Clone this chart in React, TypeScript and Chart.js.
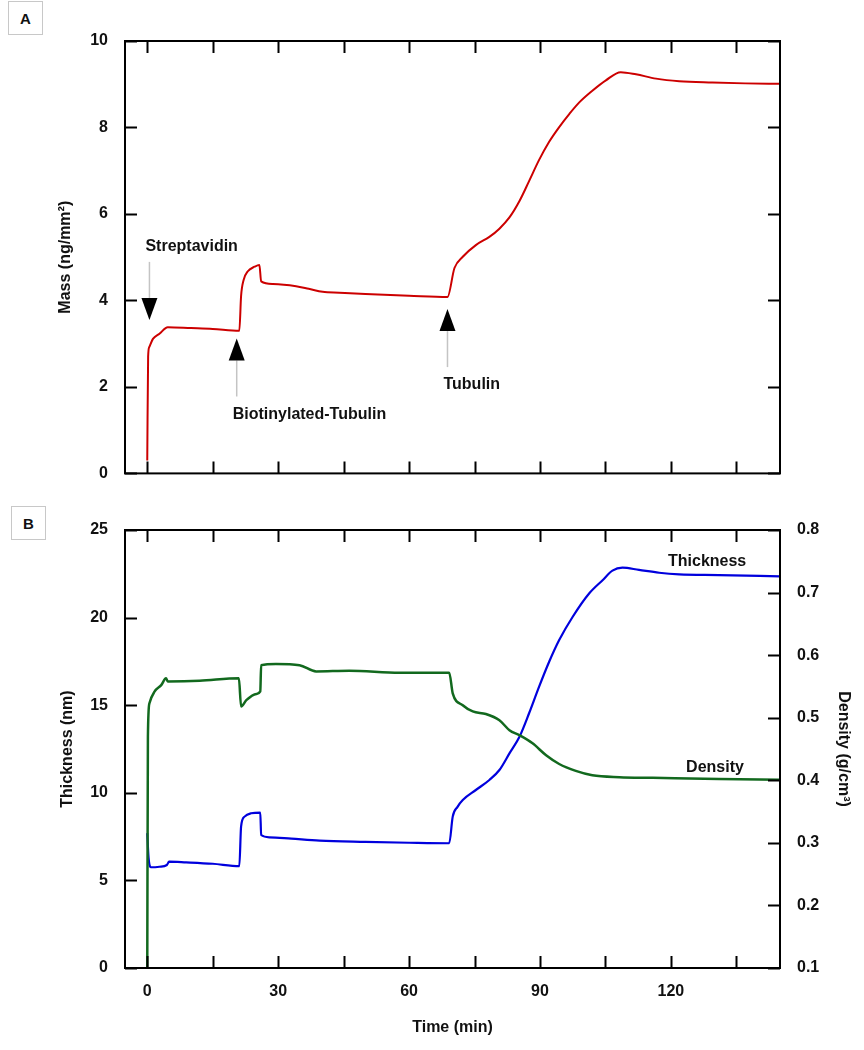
import React, { useEffect, useRef } from 'react';
import { Chart, registerables } from 'chart.js';

Chart.register(...registerables);

const FONT = '"Liberation Sans", Arial, Helvetica, sans-serif';

// ---- axes ----
const xMin = -5.1;
const xMax = 145;
const xTicks = [0, 15, 30, 45, 60, 75, 90, 105, 120, 135];
const xLabelTicks = [0, 30, 60, 90, 120];
const massTicks = [0, 2, 4, 6, 8, 10];
const thkTicks = [0, 5, 10, 15, 20, 25];
const denTicks = [0.1, 0.2, 0.3, 0.4, 0.5, 0.6, 0.7, 0.8];

// ---- panel A: mass ----
const massTime = [0, 0.2, 0.45, 1.3, 2.8, 4.7, 10, 15, 21.1, 21.5, 22.1, 23, 24.6, 25.7, 26.1, 28.8, 34.1, 37, 40.2, 44, 50, 60, 68.8, 70.4, 72.3, 75.3, 78.4, 80.7, 83, 85.3, 87.5, 89.8, 92.1, 94.4, 96.7, 99, 102, 105.1, 108.5, 112, 116.6, 121.9, 129.5, 137, 145];
const massValues = [0.3, 2.7, 2.92, 3.11, 3.23, 3.38, 3.36, 3.34, 3.30, 4.1, 4.48, 4.67, 4.78, 4.82, 4.44, 4.38, 4.33, 4.27, 4.20, 4.18, 4.15, 4.11, 4.08, 4.75, 5.01, 5.28, 5.47, 5.66, 5.92, 6.30, 6.76, 7.25, 7.67, 8.01, 8.31, 8.58, 8.85, 9.09, 9.28, 9.23, 9.13, 9.07, 9.04, 9.02, 9.01];

// arrows / annotations in panel A
const arrowLabels = ['Streptavidin', 'Biotinylated-Tubulin', 'Tubulin'];
const arrowTimes = [0.5, 20.5, 68.8];
const arrowTips = [3.55, 3.12, 3.8];
const arrowDirs = ['down', 'up', 'up'];

// ---- panel B: thickness & density ----
const thkTime = [0, 0.3, 0.9, 2.8, 4.5, 5, 8.9, 15, 21.1, 21.5, 22.3, 23.8, 25.9, 26.1, 28, 33, 39.5, 50, 60, 69.2, 70, 71.1, 72.3, 75.3, 78.4, 80.7, 83, 85.3, 87.5, 89.8, 92.1, 94.4, 97.5, 101.3, 104.4, 106.6, 108.9, 112.7, 117.3, 121.9, 131, 145];
const thkValues = [7.7, 6.3, 5.75, 5.78, 5.88, 6.07, 6.03, 5.95, 5.82, 8.07, 8.64, 8.83, 8.87, 7.59, 7.46, 7.38, 7.27, 7.2, 7.15, 7.12, 8.64, 9.2, 9.59, 10.16, 10.73, 11.3, 12.25, 13.2, 14.54, 16.06, 17.48, 18.72, 20.05, 21.39, 22.15, 22.68, 22.85, 22.72, 22.56, 22.47, 22.43, 22.35];

const denTime = [0, 0.15, 0.5, 1.7, 3.2, 4.3, 4.7, 12, 21, 21.5, 22.7, 25, 25.9, 26.1, 29.5, 34.9, 38.7, 46.3, 57.8, 69.2, 70, 72.3, 74.6, 77.6, 80.7, 83, 85.3, 88.3, 91.4, 94.4, 98.2, 102, 108.2, 115.8, 131, 145];
const denValues = [0.1, 0.47, 0.523, 0.542, 0.552, 0.563, 0.558, 0.559, 0.563, 0.518, 0.528, 0.538, 0.542, 0.584, 0.586, 0.584, 0.574, 0.575, 0.572, 0.572, 0.539, 0.520, 0.510, 0.506, 0.496, 0.480, 0.472, 0.459, 0.440, 0.426, 0.415, 0.408, 0.405, 0.404, 0.402, 0.401];

const curveLabels = ['Thickness', 'Density'];
const curveLabelTimes = [128.3, 130.1];
const curveLabelValues = [23.17, 0.421];

const pts = (xs: number[], ys: number[]) => xs.map((x, i) => ({ x, y: ys[i] }));

const tickFont = { family: FONT, size: 16, weight: 'bold' as const };
const titleFont = { family: FONT, size: 16, weight: 'bold' as const };

const frameTicksPlugin = {
  id: 'frameTicks',
  afterDatasetsDraw(chart: any) {
    const { ctx, chartArea } = chart;
    const { left, right, top, bottom } = chartArea;
    const L = 12;
    ctx.save();
    ctx.strokeStyle = '#000';
    ctx.lineWidth = 2;
    ctx.beginPath();
    const x = chart.scales.x;
    x.ticks.forEach((t: any) => {
      const px = Math.round(x.getPixelForValue(t.value)) + 0.5;
      ctx.moveTo(px, bottom);
      ctx.lineTo(px, bottom - L);
      ctx.moveTo(px, top);
      ctx.lineTo(px, top + L);
    });
    const y = chart.scales.y;
    y.ticks.forEach((t: any) => {
      const py = Math.round(y.getPixelForValue(t.value)) + 0.5;
      ctx.moveTo(left, py);
      ctx.lineTo(left + L, py);
      if (!chart.scales.y1) {
        ctx.moveTo(right, py);
        ctx.lineTo(right - L, py);
      }
    });
    const y1 = chart.scales.y1;
    if (y1) {
      y1.ticks.forEach((t: any) => {
        const py = Math.round(y1.getPixelForValue(t.value)) + 0.5;
        ctx.moveTo(right, py);
        ctx.lineTo(right - L, py);
      });
    }
    ctx.stroke();
    ctx.strokeRect(left, top, right - left, bottom - top);
    ctx.restore();
  },
};

const arrowsPlugin = {
  id: 'arrows',
  afterDatasetsDraw(chart: any) {
    const { ctx } = chart;
    const x = chart.scales.x;
    const y = chart.scales.y;
    ctx.save();
    ctx.font = `bold 16px ${FONT}`;
    ctx.textAlign = 'left';
    ctx.textBaseline = 'middle';
    arrowLabels.forEach((label, i) => {
      const px = x.getPixelForValue(arrowTimes[i]);
      const py = y.getPixelForValue(arrowTips[i]);
      const head = 22;
      const shaft = 36;
      const hw = 8;
      const sgn = arrowDirs[i] === 'down' ? -1 : 1;
      // shaft
      ctx.strokeStyle = '#c4c4c4';
      ctx.lineWidth = 1.5;
      ctx.beginPath();
      ctx.moveTo(px, py + sgn * head);
      ctx.lineTo(px, py + sgn * (head + shaft));
      ctx.stroke();
      // head
      ctx.fillStyle = '#000';
      ctx.beginPath();
      ctx.moveTo(px, py);
      ctx.lineTo(px - hw, py + sgn * head);
      ctx.lineTo(px + hw, py + sgn * head);
      ctx.closePath();
      ctx.fill();
      // label
      ctx.fillStyle = '#111';
      const ty = py + sgn * (head + shaft + (sgn < 0 ? 15 : 18));
      ctx.fillText(label, px - 4, ty);
    });
    ctx.restore();
  },
};

const curveLabelPlugin = {
  id: 'curveLabels',
  afterDatasetsDraw(chart: any) {
    const { ctx } = chart;
    const x = chart.scales.x;
    const scales = [chart.scales.y, chart.scales.y1];
    ctx.save();
    ctx.font = `bold 16px ${FONT}`;
    ctx.textAlign = 'center';
    ctx.textBaseline = 'middle';
    ctx.fillStyle = '#111';
    curveLabels.forEach((label, i) => {
      ctx.fillText(label, x.getPixelForValue(curveLabelTimes[i]), scales[i].getPixelForValue(curveLabelValues[i]));
    });
    ctx.restore();
  },
};

const setTicks = (arr: number[]) => (s: any) => {
  s.ticks = arr.map((v) => ({ value: v }));
};

function TopChart() {
  const ref = useRef<HTMLCanvasElement>(null);
  useEffect(() => {
    const chart = new Chart(ref.current!, {
      type: 'line',
      data: {
        datasets: [
          {
            data: pts(massTime, massValues),
            borderColor: '#cc0000',
            borderWidth: 2,
            pointRadius: 0,
            cubicInterpolationMode: 'monotone',
            fill: false,
          },
        ],
      },
      options: {
        responsive: false,
        animation: false,
        devicePixelRatio: 1,
        parsing: true,
        layout: { padding: { top: 41, right: 84, left: 0, bottom: 0 } },
        plugins: { legend: { display: false }, tooltip: { enabled: false } },
        scales: {
          x: {
            type: 'linear',
            min: xMin,
            max: xMax,
            afterBuildTicks: setTicks(xTicks),
            ticks: { display: false },
            grid: { display: false },
            border: { display: false },
            afterFit: (s: any) => {
              s.height = 20;
            },
          },
          y: {
            type: 'linear',
            min: 0,
            max: 10,
            afterBuildTicks: setTicks(massTicks),
            ticks: { font: tickFont, color: '#111', padding: 17, callback: (v: any) => String(v) },
            grid: { display: false, drawTicks: false },
            border: { display: false },
            title: {
              display: true,
              text: 'Mass (ng/mm²)',
              font: titleFont,
              color: '#111',
              padding: { top: 56, bottom: 0 },
            },
            afterFit: (s: any) => {
              s.width = 125;
            },
          },
        },
      } as any,
      plugins: [frameTicksPlugin, arrowsPlugin],
    });
    return () => chart.destroy();
  }, []);
  return (
    <canvas ref={ref} width={864} height={500} style={{ position: 'absolute', left: 0, top: 0, width: 864, height: 500 }} />
  );
}

function BottomChart() {
  const ref = useRef<HTMLCanvasElement>(null);
  useEffect(() => {
    const chart = new Chart(ref.current!, {
      type: 'line',
      data: {
        datasets: [
          {
            data: pts(denTime, denValues),
            yAxisID: 'y1',
            borderColor: '#12691e',
            borderWidth: 2.5,
            pointRadius: 0,
            cubicInterpolationMode: 'monotone',
            fill: false,
          },
          {
            data: pts(thkTime, thkValues),
            yAxisID: 'y',
            borderColor: '#0000dd',
            borderWidth: 2.2,
            pointRadius: 0,
            cubicInterpolationMode: 'monotone',
            fill: false,
          },
        ],
      },
      options: {
        responsive: false,
        animation: false,
        devicePixelRatio: 1,
        layout: { padding: { top: 30, right: 0, left: 0, bottom: 0 } },
        plugins: { legend: { display: false }, tooltip: { enabled: false } },
        scales: {
          x: {
            type: 'linear',
            min: xMin,
            max: xMax,
            afterBuildTicks: setTicks(xTicks),
            ticks: {
              font: tickFont,
              color: '#111',
              padding: 14,
              autoSkip: false,
              maxRotation: 0,
              callback: (v: any) => (xLabelTicks.includes(v) ? String(v) : ''),
            },
            grid: { display: false, drawTicks: false },
            border: { display: false },
            title: {
              display: true,
              text: 'Time (min)',
              font: titleFont,
              color: '#111',
              padding: { top: 0, bottom: 13 },
            },
            afterFit: (s: any) => {
              s.height = 82;
            },
          },
          y: {
            type: 'linear',
            position: 'left',
            min: 0,
            max: 25,
            afterBuildTicks: setTicks(thkTicks),
            ticks: { font: tickFont, color: '#111', padding: 17, callback: (v: any) => String(v) },
            grid: { display: false, drawTicks: false },
            border: { display: false },
            title: {
              display: true,
              text: 'Thickness (nm)',
              font: titleFont,
              color: '#111',
              padding: { top: 58, bottom: 0 },
            },
            afterFit: (s: any) => {
              s.width = 125;
            },
          },
          y1: {
            type: 'linear',
            position: 'right',
            min: 0.1,
            max: 0.8,
            afterBuildTicks: setTicks(denTicks),
            ticks: { font: tickFont, color: '#111', padding: 17, callback: (v: any) => Number(v).toFixed(1) },
            grid: { display: false, drawTicks: false },
            border: { display: false },
            title: {
              display: true,
              text: 'Density (g/cm³)',
              font: titleFont,
              color: '#111',
              padding: { top: 11, bottom: 0 },
            },
            afterFit: (s: any) => {
              s.width = 84;
            },
          },
        },
      } as any,
      plugins: [frameTicksPlugin, curveLabelPlugin],
    });
    return () => chart.destroy();
  }, []);
  return (
    <canvas ref={ref} width={864} height={550} style={{ position: 'absolute', left: 0, top: 500, width: 864, height: 550 }} />
  );
}

const boxStyle = (left: number, top: number): React.CSSProperties => ({
  position: 'absolute',
  left,
  top,
  width: 33,
  height: 32,
  border: '1px solid #c8c8c8',
  display: 'flex',
  alignItems: 'center',
  justifyContent: 'center',
  fontFamily: FONT,
  fontWeight: 'bold',
  fontSize: 15,
  color: '#111',
  background: '#fff',
  zIndex: 2,
});

export default function App() {
  return (
    <div style={{ position: 'absolute', left: 0, top: 0, width: 864, height: 1050, background: '#fff', overflow: 'hidden' }}>
      <TopChart />
      <BottomChart />
      <div style={boxStyle(8, 1)}>A</div>
      <div style={boxStyle(11, 506)}>B</div>
    </div>
  );
}
